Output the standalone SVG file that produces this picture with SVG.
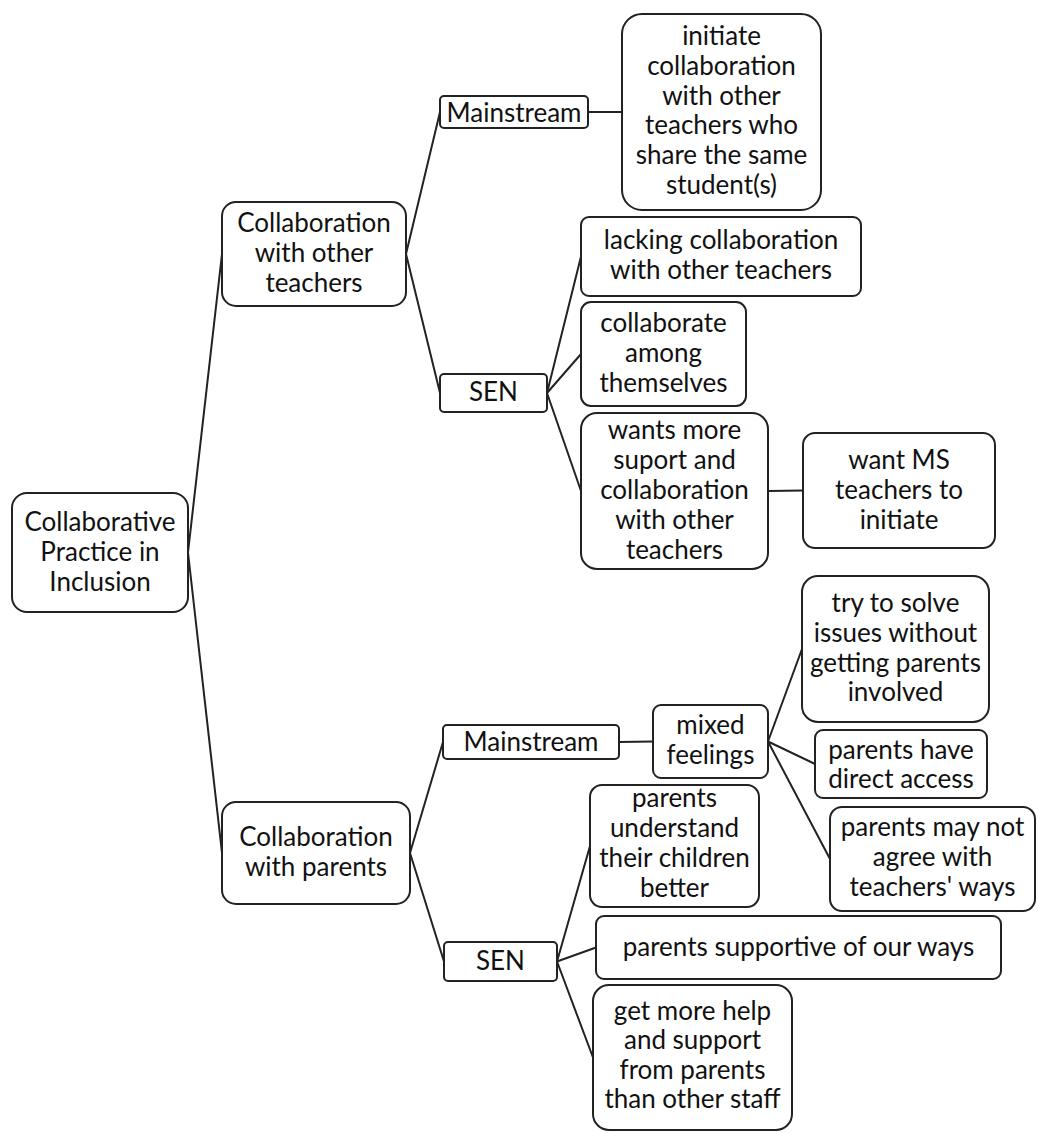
<svg xmlns="http://www.w3.org/2000/svg" width="1038" height="1133" viewBox="0 0 1038 1133">
<style>
.box{fill:#fff;stroke:#222;stroke-width:2}
.t{font-family:Lato,"Open Sans","Liberation Sans",sans-serif;font-size:26px;fill:#111;text-anchor:middle}
.c line{stroke:#222;stroke-width:2;stroke-linecap:round}
</style>
<rect width="1038" height="1133" fill="#fff"/>
<g class="c" id="connectors">
<line x1="188" y1="552.5" x2="222" y2="254"/>
<line x1="188" y1="552.5" x2="222" y2="853"/>
<line x1="406" y1="254" x2="440" y2="112"/>
<line x1="406" y1="254" x2="440" y2="393"/>
<line x1="588" y1="112" x2="622" y2="112"/>
<line x1="547" y1="393" x2="581" y2="256.5"/>
<line x1="547" y1="393" x2="581" y2="354"/>
<line x1="547" y1="393" x2="581" y2="491"/>
<line x1="768" y1="491" x2="803" y2="490.5"/>
<line x1="410" y1="853" x2="443" y2="742"/>
<line x1="410" y1="853" x2="444" y2="961.5"/>
<line x1="619" y1="742" x2="653" y2="741.5"/>
<line x1="768" y1="741.5" x2="802" y2="649"/>
<line x1="768" y1="741.5" x2="815" y2="764"/>
<line x1="768" y1="741.5" x2="830" y2="859"/>
<line x1="557" y1="961.5" x2="590" y2="846"/>
<line x1="557" y1="961.5" x2="596" y2="947.5"/>
<line x1="557" y1="961.5" x2="593" y2="1057.5"/>
</g>
<g id="root"><rect class="box" x="12" y="493" width="176" height="119" rx="15"/>
<text class="t" x="100" y="531">Collaborative</text><text class="t" x="100" y="561">Practice in</text><text class="t" x="100" y="591">Inclusion</text></g>
<g id="cwt"><rect class="box" x="222" y="202" width="184" height="104" rx="14"/>
<text class="t" x="314" y="232">Collaboration</text><text class="t" x="314" y="262">with other</text><text class="t" x="314" y="292">teachers</text></g>
<g id="cwp"><rect class="box" x="222" y="802" width="188" height="102" rx="14"/>
<text class="t" x="316" y="846">Collaboration</text><text class="t" x="316" y="876">with parents</text></g>
<g id="ms1"><rect class="box" x="440" y="96" width="148" height="32" rx="4"/>
<text class="t" x="514" y="122">Mainstream</text></g>
<g id="sen1"><rect class="box" x="440" y="374" width="107" height="38" rx="4"/>
<text class="t" x="493.5" y="401">SEN</text></g>
<g id="initiate"><rect class="box" x="622" y="14" width="199" height="196" rx="20"/>
<text class="t" x="721.5" y="45">initiate</text><text class="t" x="721.5" y="75">collaboration</text><text class="t" x="721.5" y="105">with other</text><text class="t" x="721.5" y="134">teachers who</text><text class="t" x="721.5" y="164">share the same</text><text class="t" x="721.5" y="194">student(s)</text></g>
<g id="lacking"><rect class="box" x="581" y="217" width="280" height="79" rx="8"/>
<text class="t" x="721" y="249">lacking collaboration</text><text class="t" x="721" y="279">with other teachers</text></g>
<g id="collaborate"><rect class="box" x="581" y="302" width="165" height="104" rx="10"/>
<text class="t" x="663.5" y="332">collaborate</text><text class="t" x="663.5" y="362">among</text><text class="t" x="663.5" y="392">themselves</text></g>
<g id="wants"><rect class="box" x="581" y="413" width="187" height="156" rx="16"/>
<text class="t" x="674.5" y="439">wants more</text><text class="t" x="674.5" y="469">suport and</text><text class="t" x="674.5" y="499">collaboration</text><text class="t" x="674.5" y="529">with other</text><text class="t" x="674.5" y="559">teachers</text></g>
<g id="wantms"><rect class="box" x="803" y="433" width="192" height="115" rx="12"/>
<text class="t" x="899" y="469">want MS</text><text class="t" x="899" y="499">teachers to</text><text class="t" x="899" y="529">initiate</text></g>
<g id="ms2"><rect class="box" x="443" y="725" width="176" height="34" rx="4"/>
<text class="t" x="531" y="751">Mainstream</text></g>
<g id="mixed"><rect class="box" x="653" y="705" width="115" height="73" rx="8"/>
<text class="t" x="710.5" y="734">mixed</text><text class="t" x="710.5" y="764">feelings</text></g>
<g id="try"><rect class="box" x="802" y="576" width="187" height="146" rx="16"/>
<text class="t" x="895.5" y="612">try to solve</text><text class="t" x="895.5" y="642">issues without</text><text class="t" x="895.5" y="672">getting parents</text><text class="t" x="895.5" y="701">involved</text></g>
<g id="direct"><rect class="box" x="815" y="730" width="172" height="68" rx="8"/>
<text class="t" x="901" y="759">parents have</text><text class="t" x="901" y="788">direct access</text></g>
<g id="maynot"><rect class="box" x="830" y="807" width="205" height="104" rx="12"/>
<text class="t" x="932.5" y="836">parents may not</text><text class="t" x="932.5" y="866">agree with</text><text class="t" x="932.5" y="896">teachers' ways</text></g>
<g id="sen2"><rect class="box" x="444" y="942" width="113" height="39" rx="4"/>
<text class="t" x="500.5" y="970">SEN</text></g>
<g id="understand"><rect class="box" x="590" y="785" width="169" height="122" rx="12"/>
<text class="t" x="674.5" y="807">parents</text><text class="t" x="674.5" y="837">understand</text><text class="t" x="674.5" y="867">their children</text><text class="t" x="674.5" y="897">better</text></g>
<g id="supportive"><rect class="box" x="596" y="916" width="405" height="63" rx="8"/>
<text class="t" x="798.5" y="956">parents supportive of our ways</text></g>
<g id="gethelp"><rect class="box" x="593" y="985" width="199" height="145" rx="16"/>
<text class="t" x="692.5" y="1020">get more help</text><text class="t" x="692.5" y="1049">and support</text><text class="t" x="692.5" y="1079">from parents</text><text class="t" x="692.5" y="1108">than other staff</text></g>
</svg>
